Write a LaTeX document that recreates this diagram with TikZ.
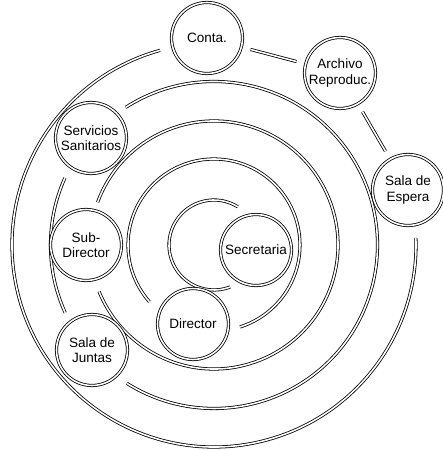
\documentclass[tikz,border=0pt]{standalone}
\usepackage{fontspec}
\setmainfont{Liberation Sans}
\usetikzlibrary{positioning}
\tikzset{wall/.style={double,double distance=.9pt,line width=.45pt}}
\tikzset{room/.style={circle,draw,wall,fill=white,minimum size=1.42cm,inner sep=0pt,align=center,font=\fontsize{7.7}{8.8}\selectfont}}
\tikzset{gap/.style={wall,shorten <=.18cm,shorten >=.18cm}}
\begin{document}
\begin{tikzpicture}[x=.02cm,y=.02cm]
\useasboundingbox (0,0) rectangle (443,450);
\coordinate (c) at (214,205);
\draw[wall](c)++(105.5:202) arc[start angle=105.5,end angle=362,radius=202];
\draw[wall](c)++(122.7:163.5) arc[start angle=122.7,end angle=-122.2,radius=163.5];
\draw[wall](c)++(155.8:163.5) arc[start angle=155.8,end angle=204.5,radius=163.5];
\draw[wall](c)++(159.8:124) arc[start angle=159.8,end angle=-158,radius=124];
\draw[wall](c)++(221.3:86) arc[start angle=221.3,end angle=-72.4,radius=86];
\draw[wall](c)++(58:45) arc[start angle=58,end angle=291,radius=45];
\node[room] (conta) at (207,412) {Conta.};
\node[room] (archivo) at (340,377) {Archivo\\Reproduc.};
\node[room] (espera) at (408,260) {Sala de\\Espera};
\node[room] (servicios) at (91,312) {Servicios\\Sanitarios};
\node[room] (subdir) at (86,205) {Sub-\\Director};
\node[room] (secre) at (256,200) {Secretaria};
\node[room] (director) at (193,126) {Director};
\node[room] (juntas) at (92,100) {Sala de\\Juntas};
\draw[gap](conta)--(archivo);\draw[gap](archivo)--(espera);
\end{tikzpicture}
\end{document}
